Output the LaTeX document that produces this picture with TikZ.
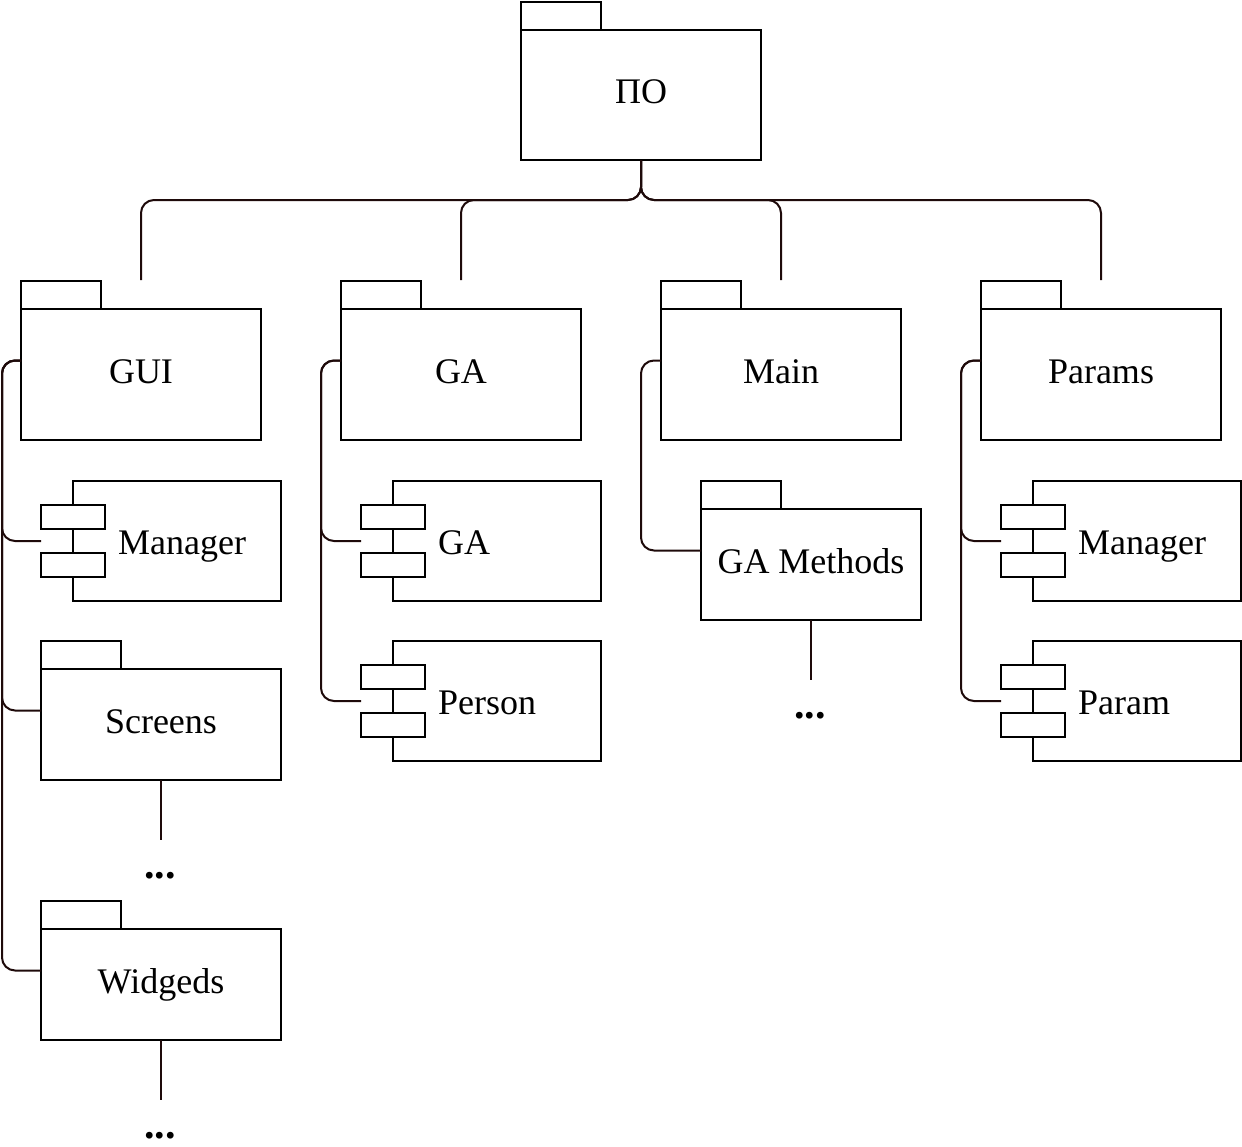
\documentclass[tikz,border=0pt]{standalone}
\usepackage{fontspec}
\setmainfont{Liberation Serif}
\usetikzlibrary{calc}
\definecolor{edgec}{RGB}{30,10,10}
\newcommand{\pkgnode}[6]{%
  \node[pkgbody, minimum width=#4pt, minimum height=#5pt] (#1) at (#2,#3) {#6};
  \draw[boxline] (#1.north west) rectangle ++(80,-28);
  \coordinate (#1-top) at ([yshift=29pt]#1.north);
  \coordinate (#1-L) at ([yshift=14pt]#1.west);
}
\newcommand{\compnode}[4]{%
  \node[compbody] (#1) at (#2,#3) {};
  \node[pin] (#1-a) at ([yshift=24.5pt]#1.west) {};
  \node[pin] (#1-b) at ([yshift=-24pt]#1.west) {};
  \node[comptext] (#1-t) at ([xshift=45pt,yshift=-13pt]#1.west) {#4};
  \coordinate (#1-in) at (#1-a.west |- #1.west);
}
\begin{document}
\begin{tikzpicture}[x=1pt,y=-1pt,
  every node/.style={font=\fontsize{36}{43}\selectfont},
  boxline/.style={draw=black, line width=2pt},
  pkgbody/.style={boxline, fill=white, outer sep=0pt, inner sep=0pt, anchor=north west, text height=24pt, text depth=7pt},
  compbody/.style={boxline, fill=white, outer sep=0pt, inner sep=0pt, anchor=north west, minimum width=208pt, minimum height=120pt},
  pin/.style={boxline, fill=white, outer sep=0pt, inner sep=0pt, minimum width=64pt, minimum height=24pt},
  comptext/.style={anchor=base west, inner sep=0pt},
  dotstext/.style={anchor=base, inner sep=0pt, font=\fontsize{42}{50}\selectfont\bfseries},
  conn/.style={draw=edgec, line width=2pt, rounded corners=13pt}]
\useasboundingbox (0,0) rectangle (1242,1146);

% packages
\pkgnode{po}{521}{30}{240}{130}{ПО}
\pkgnode{gui}{21}{309}{240}{131}{GUI}
\pkgnode{ga}{341}{309}{240}{131}{GA}
\pkgnode{main}{661}{309}{240}{131}{Main}
\pkgnode{params}{981}{309}{240}{131}{Params}
\pkgnode{screens}{41}{669}{240}{111}{Screens}
\pkgnode{widgeds}{41}{929}{240}{111}{Widgeds}
\pkgnode{gameth}{701}{509}{220}{111}{GA Methods}

% components
\compnode{mgrA}{73}{481}{Manager}
\compnode{gac}{393}{481}{GA}
\compnode{person}{393}{641}{Person}
\compnode{mgrP}{1033}{481}{Manager}
\compnode{param}{1033}{641}{Param}

% ellipses
\node[dotstext] (scr-d) at (160,878) {...};
\node[dotstext] (wid-d) at (160,1138) {...};
\node[dotstext] (gam-d) at (810,718) {...};
\coordinate (scr-e) at ([yshift=-60pt]screens.south);
\coordinate (wid-e) at ([yshift=-60pt]widgeds.south);
\coordinate (gam-e) at ([yshift=-60pt]gameth.south);

% top fork
\draw[conn] (po.south) -- ++(0,40) -| (gui-top);
\draw[conn] (po.south) -- ++(0,40) -| (ga-top);
\draw[conn] (po.south) -- ++(0,40) -| (main-top);
\draw[conn] (po.south) -- ++(0,40) -| (params-top);

% GUI
\draw[conn] (gui-L) -- ++(-19,0) |- (mgrA-in);
\draw[conn] (gui-L) -- ++(-19,0) |- (screens-L);
\draw[conn] (gui-L) -- ++(-19,0) |- (widgeds-L);
% GA
\draw[conn] (ga-L) -- ++(-20,0) |- (gac-in);
\draw[conn] (ga-L) -- ++(-20,0) |- (person-in);
% Main
\draw[conn] (main-L) -- ++(-20,0) |- (gameth-L);
% Params
\draw[conn] (params-L) -- ++(-20,0) |- (mgrP-in);
\draw[conn] (params-L) -- ++(-20,0) |- (param-in);

% tails
\draw[conn] (screens.south) -- (scr-e);
\draw[conn] (widgeds.south) -- (wid-e);
\draw[conn] (gameth.south) -- (gam-e);
\end{tikzpicture}
\end{document}
